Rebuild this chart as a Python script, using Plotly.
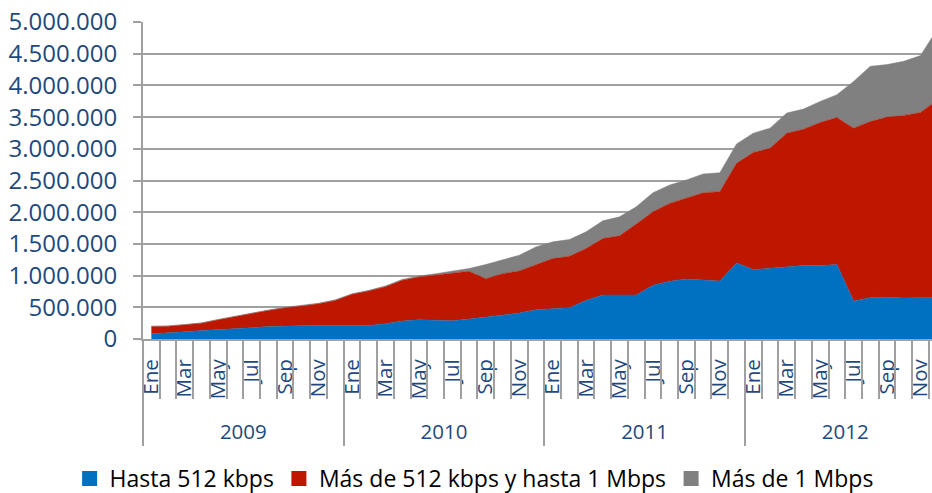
import plotly.graph_objects as go

months = ["Ene", "Feb", "Mar", "Abr", "May", "Jun", "Jul", "Ago", "Sep", "Oct", "Nov", "Dic"]
years = ["2009", "2010", "2011", "2012"]

hasta_512 = [82000, 92000, 113000, 134000, 145000, 161000, 177000, 198000, 208000, 210000, 212000, 213000,
             214000, 213000, 240000, 282000, 303000, 293000, 288000, 314000, 345000, 377000, 409000, 462000,
             478000, 493000, 609000, 693000, 693000, 693000, 847000, 910000, 947000, 926000, 915000, 1200000,
             1095000, 1116000, 1136000, 1158000, 1158000, 1174000, 598000, 652000, 657000, 646000, 652000, 652000]
de_512_a_1m = [116000, 111000, 111000, 116000, 159000, 195000, 231000, 253000, 285000, 309000, 345000, 396000,
               490000, 544000, 585000, 644000, 675000, 717000, 753000, 754000, 607000, 654000, 664000, 712000,
               791000, 812000, 818000, 892000, 934000, 1119000, 1160000, 1229000, 1271000, 1381000, 1408000, 1572000,
               1845000, 1893000, 2111000, 2152000, 2257000, 2320000, 2728000, 2778000, 2843000, 2880000, 2921000, 3117000]
mas_1m = [4000, 4000, 5000, 5000, 5000, 6000, 6000, 7000, 7000, 8000, 8000, 9000,
          10000, 11000, 12000, 14000, 16000, 20000, 26000, 45000, 222000, 222000, 248000, 279000,
          263000, 264000, 263000, 279000, 300000, 273000, 300000, 290000, 290000, 296000, 300000, 305000,
          307000, 317000, 316000, 317000, 332000, 359000, 737000, 871000, 828000, 854000, 897000, 1112000]

series = [("Hasta 512 kbps", hasta_512, "#0070C0"),
          ("Más de 512 kbps y hasta 1 Mbps", de_512_a_1m, "#BE1700"),
          ("Más de 1 Mbps", mas_1m, "#808080")]

n = len(months) * len(years)
x = list(range(n))
xr = [-0.5, 46.69]
grey = "#A0A0A0"
txt = "#1F497D"

fig = go.Figure()
for name, vals, col in series:
    fig.add_trace(go.Scatter(x=x, y=vals, stackgroup="one", mode="lines",
                             line=dict(width=0.5, color=col), fillcolor=col,
                             name=name, showlegend=False, hoverinfo="x+y+name"))

# legend entries (square swatches), also anchor the helper axes
for (name, vals, col), xa in zip(series, ["x2", "x3", "x4"]):
    fig.add_trace(go.Scatter(x=[None], y=[None], xaxis=xa, mode="markers", name=name,
                             marker=dict(symbol="square", size=15, color=col)))

month_pos = list(range(0, n, 2))
month_txt = [months[i % 12] for i in month_pos]
year_centers = [i * 12 + 5.5 for i in range(len(years))]
year_bounds = [i * 12 - 0.5 for i in range(len(years) + 1)]
month_bounds = [i - 0.5 for i in range(n + 1)]

axfont = dict(family="Open Sans", size=20.5, color=txt)
helper = dict(type="linear", range=xr, overlaying="x", anchor="y", side="bottom",
              showgrid=False, zeroline=False, showline=False, automargin=False)

fig.update_layout(
    width=932, height=493,
    margin=dict(l=143, r=0, t=22, b=154, pad=0, autoexpand=False),
    paper_bgcolor="white", plot_bgcolor="white",
    separators=",.",
    font=dict(family="Open Sans", color="black"),
    xaxis=dict(type="linear", range=xr, tickvals=month_pos, ticktext=month_txt, tickangle=-90,
               ticks="", showgrid=False, zeroline=False, showline=True, linecolor=grey, linewidth=2,
               tickfont=axfont, ticklabelstandoff=10, ticklabeloverflow="allow", automargin=False),
    xaxis2=dict(helper, tickvals=month_bounds, showticklabels=False, ticks="outside", ticklen=59,
                tickwidth=2, tickcolor=grey),
    xaxis3=dict(helper, tickvals=year_centers, ticktext=years, ticks="outside", ticklen=74,
                tickcolor="rgba(0,0,0,0)", tickfont=axfont),
    xaxis4=dict(helper, tickvals=year_bounds, showticklabels=False, ticks="outside", ticklen=106,
                tickwidth=2, tickcolor=grey),
    yaxis=dict(range=[0, 5000000], dtick=500000, tickformat=",d", showgrid=True, gridcolor=grey,
               gridwidth=2, zeroline=False, showline=True, linecolor=grey, linewidth=2,
               ticks="outside", ticklen=8, tickwidth=2, tickcolor=grey, automargin=False,
               tickfont=dict(family="Open Sans", size=24, color=txt), ticklabelstandoff=11),
    legend=dict(orientation="h", x=-0.093, y=-0.44,
                xanchor="left", yanchor="middle", traceorder="normal",
                font=dict(family="Open Sans", size=23, color="black"),
                itemwidth=30, tracegroupgap=0),
)

fig.write_html("out.html", config={"displayModeBar": False},
               post_script="document.body.style.margin='0';")
